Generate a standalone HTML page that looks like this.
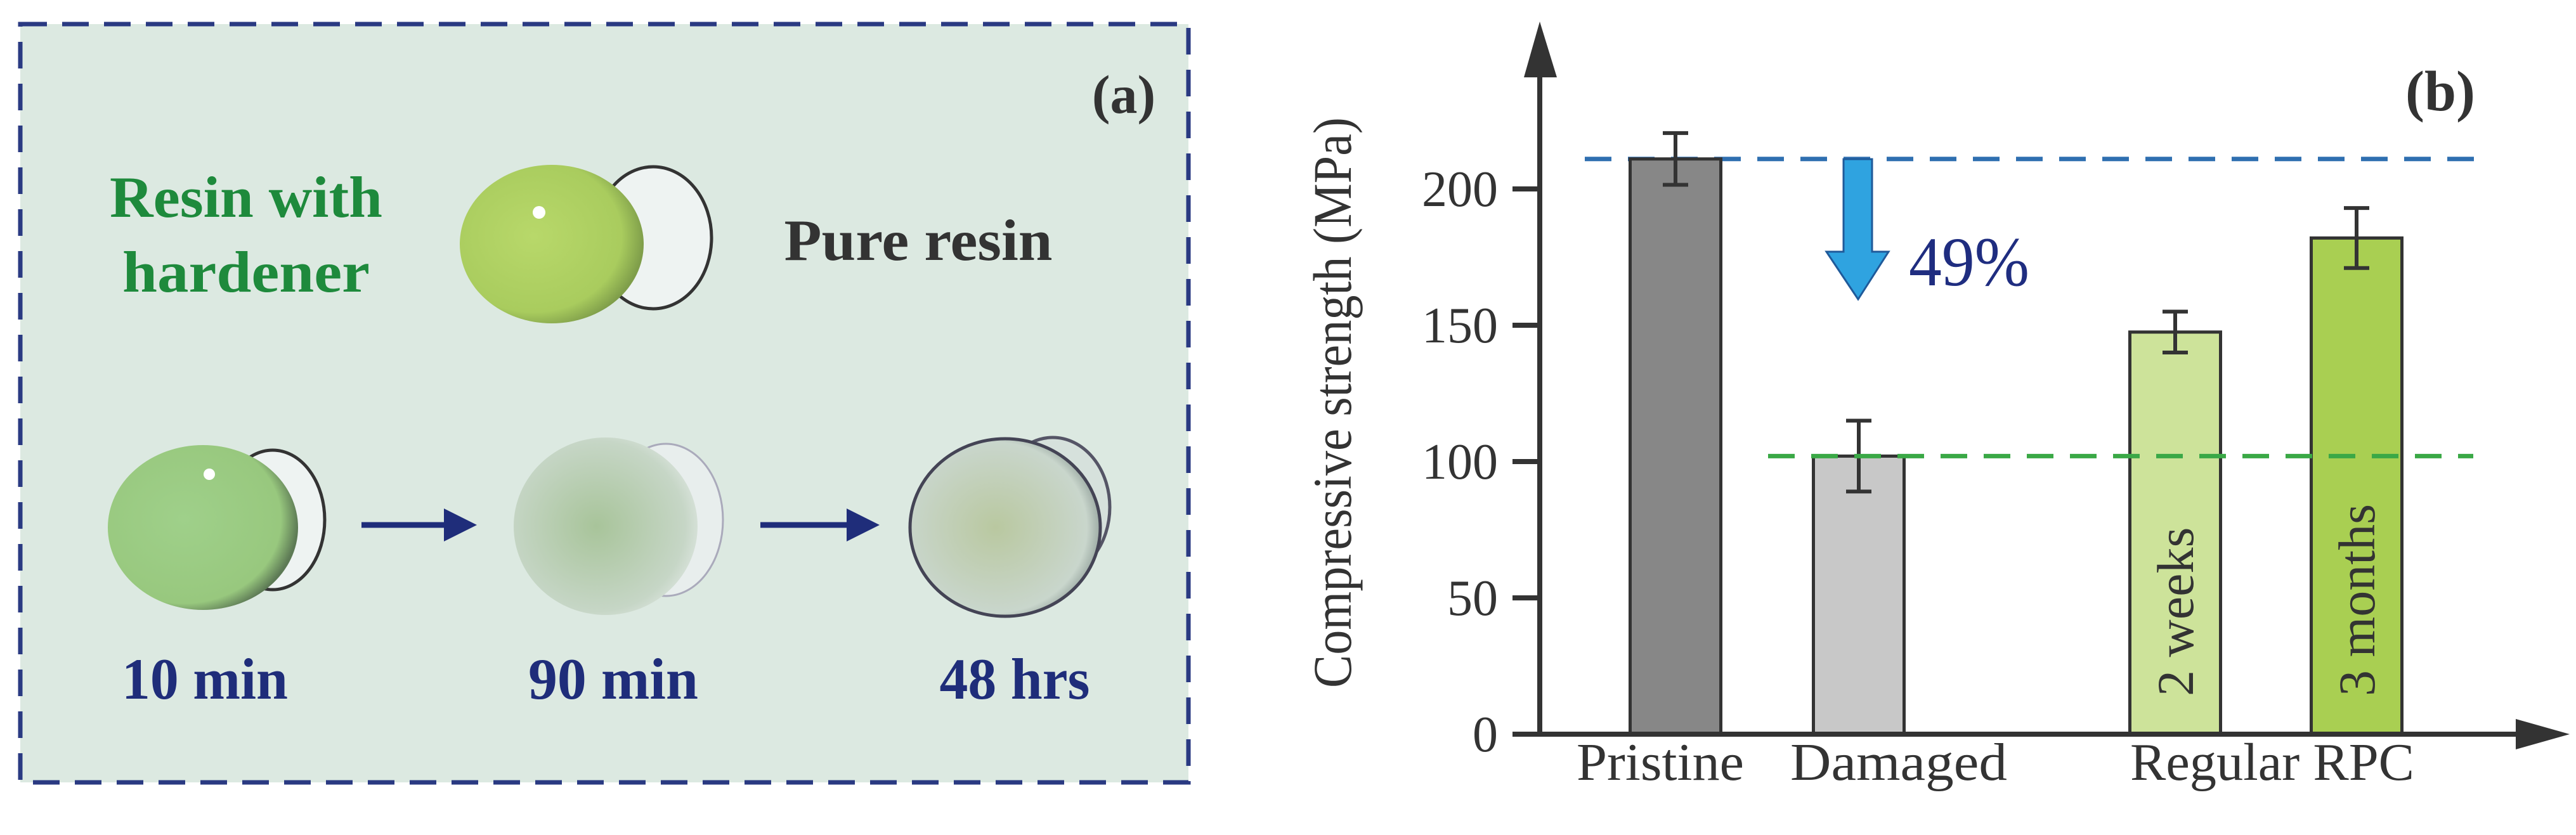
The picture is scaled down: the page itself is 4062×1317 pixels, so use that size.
<!DOCTYPE html>
<html><head><meta charset="utf-8"><style>
html,body{margin:0;padding:0;background:#fff;}
svg{display:block;}
text{font-family:"Liberation Serif",serif;}
</style></head><body>
<svg id="fig" width="4062" height="1317" viewBox="0 0 4062 1317" xmlns="http://www.w3.org/2000/svg">
<defs>
<radialGradient id="g1" cx="0.4" cy="0.45" r="0.6"><stop offset="0" stop-color="#b8d86a"/><stop offset="0.8" stop-color="#a9cc5e"/><stop offset="1" stop-color="#7f9e4a"/></radialGradient>
<radialGradient id="g2" cx="0.4" cy="0.45" r="0.6"><stop offset="0" stop-color="#9fd08a"/><stop offset="0.85" stop-color="#98c87e"/><stop offset="1" stop-color="#5d7a55"/></radialGradient>
<radialGradient id="g3" cx="0.45" cy="0.5" r="0.6"><stop offset="0" stop-color="#a8c49a"/><stop offset="0.8" stop-color="#c6d6c6"/><stop offset="1" stop-color="#dfe7e2"/></radialGradient>
<radialGradient id="g4" cx="0.45" cy="0.5" r="0.6"><stop offset="0" stop-color="#b9c8a0"/><stop offset="0.8" stop-color="#c9d6cc"/><stop offset="1" stop-color="#7d8c88"/></radialGradient>
</defs>
<g>
<rect x="32" y="38" width="1842" height="1196" fill="#dce9e1" stroke="#2a3a82" stroke-width="7" stroke-dasharray="42,24"/>
<text x="1772" y="178" font-size="86" font-weight="bold" fill="#333" text-anchor="middle">(a)</text>
<text x="388" y="342" font-size="92" font-weight="bold" fill="#1e8a3c" text-anchor="middle" textLength="430" lengthAdjust="spacingAndGlyphs">Resin with</text>
<text x="388" y="460" font-size="92" font-weight="bold" fill="#1e8a3c" text-anchor="middle" textLength="390" lengthAdjust="spacingAndGlyphs">hardener</text>
<text x="1448" y="410" font-size="92" font-weight="bold" fill="#333" text-anchor="middle" textLength="423" lengthAdjust="spacingAndGlyphs">Pure resin</text>
<g>
<ellipse cx="1030" cy="375" rx="92" ry="112" fill="#eef3f2" stroke="#333" stroke-width="5"/>
<ellipse cx="870" cy="385" rx="145" ry="125" fill="url(#g1)"/>
<circle cx="850" cy="335" r="10" fill="#fff"/>
</g>
<g>
<ellipse cx="430" cy="820" rx="82" ry="110" fill="#eef3f2" stroke="#333" stroke-width="5"/>
<ellipse cx="320" cy="832" rx="150" ry="130" fill="url(#g2)"/>
<circle cx="330" cy="748" r="9" fill="#fff"/>
</g>
<g>
<ellipse cx="1050" cy="820" rx="90" ry="120" fill="#e8eeed" stroke="#aab" stroke-width="3"/>
<ellipse cx="955" cy="830" rx="145" ry="140" fill="url(#g3)"/>
</g>
<g>
<ellipse cx="1660" cy="800" rx="90" ry="110" fill="#d6e1dc" stroke="#556" stroke-width="5"/>
<ellipse cx="1585" cy="832" rx="150" ry="140" fill="url(#g4)" stroke="#445" stroke-width="5"/>
</g>
<g fill="#1f2d7a" stroke="#1f2d7a">
<line x1="570" y1="828" x2="710" y2="828" stroke-width="9"/>
<polygon points="700,802 752,828 700,854" stroke="none"/>
<line x1="1199" y1="828" x2="1345" y2="828" stroke-width="9"/>
<polygon points="1335,802 1387,828 1335,854" stroke="none"/>
</g>
<g font-size="92" font-weight="bold" fill="#1f2d7a" text-anchor="middle">
<text x="323" y="1102" textLength="262" lengthAdjust="spacingAndGlyphs">10 min</text>
<text x="967" y="1102" textLength="268" lengthAdjust="spacingAndGlyphs">90 min</text>
<text x="1600" y="1102" textLength="237" lengthAdjust="spacingAndGlyphs">48 hrs</text>
</g>
</g>
<g id="chart"></g>
</svg>
<script>
const categories = ["Pristine", "Damaged", "2 weeks", "3 months"];
const values = [211, 102, 147.5, 182];
const errors = [9.5, 13, 7.5, 11];
const barColors = ["#878787", "#c8c8c8", "#cde39a", "#a9cf52"];
const barCenters = [2642, 2931, 3430, 3716];
const yTicks = [0, 50, 100, 150, 200];
const refLines = [211, 102];

const NS = "http://www.w3.org/2000/svg";
const g = document.getElementById('chart');
const y0 = 1158, pxPerUnit = 4.3;
function yScale(v){ return y0 - v * pxPerUnit; }
function mk(tag, attrs){ const e = document.createElementNS(NS, tag); for (const k in attrs) e.setAttribute(k, attrs[k]); g.appendChild(e); return e; }
const barW = 143;

const lineBlue = mk('line', {x1:2499, x2:3927, y1:yScale(refLines[0]), y2:yScale(refLines[0]), stroke:'#2f6fb0', 'stroke-width':7, 'stroke-dasharray':'42,26'});



for (let i = 0; i < categories.length; i++) {
  const top = yScale(values[i]);
  const r = mk('rect', {x:barCenters[i]-barW/2, y:top, width:barW, height:y0-top, fill:barColors[i], stroke:'#333', 'stroke-width':5});
  
  
  const eh = yScale(values[i]+errors[i]), el = yScale(values[i]-errors[i]);
  const eb = mk('path', {d:`M${barCenters[i]} ${eh}V${el}M${barCenters[i]-20} ${eh}H${barCenters[i]+20}M${barCenters[i]-20} ${el}H${barCenters[i]+20}`, stroke:'#333', 'stroke-width':6, fill:'none'});
  
  
}

const lineGreen = mk('line', {x1:2788, x2:3900, y1:yScale(refLines[1]), y2:yScale(refLines[1]), stroke:'#3aa846', 'stroke-width':7, 'stroke-dasharray':'42,26'});



[2, 3].forEach(i => {
  const t = mk('text', {x:0, y:0, 'font-size':82, fill:'#333', 'text-anchor':'start', transform:`translate(${barCenters[i]+28},1098) rotate(-90)`});
  t.textContent = categories[i];
  
  
});

const ax = mk('path', {d:'M2428 1158V110M2400 1158H3980', stroke:'#333', 'stroke-width':8, fill:'none'});


const ya = mk('polygon', {points:'2403,122 2428,34 2455,122', fill:'#333'});


const xa = mk('polygon', {points:'3967,1134 4052,1158 3967,1182', fill:'#333'});



yTicks.forEach(v => {
  const y = yScale(v);
  const tk = mk('line', {x1:2385, x2:2428, y1:y, y2:y, stroke:'#333', 'stroke-width':8});
  
  
  const t = mk('text', {x:2362, y:y+27, 'font-size':80, fill:'#333', 'text-anchor':'end'});
  t.textContent = String(v);
  
  
});

const yt = mk('text', {x:0, y:0, 'font-size':86, fill:'#333', 'text-anchor':'middle', textLength:900, lengthAdjust:'spacingAndGlyphs', transform:'translate(2130,635) rotate(-90)'});
yt.textContent = 'Compressive strength (MPa)';



const xl = [["Pristine",2618,264],["Damaged",2994,342],["Regular RPC",3583,448]];
xl.forEach(a => {
  const t = mk('text', {x:a[1], y:1230, 'font-size':84, fill:'#333', 'text-anchor':'middle', textLength:a[2], lengthAdjust:'spacingAndGlyphs'});
  t.textContent = a[0];
  
  
});

const arr = mk('polygon', {points:'2907,251 2952,251 2952,397 2978,397 2930,472 2880,397 2907,397', fill:'#2fa3e0', stroke:'#1f5a9a', 'stroke-width':3});


const pct = mk('text', {x:3010, y:450, 'font-size':110, fill:'#1f2d80', textLength:190, lengthAdjust:'spacingAndGlyphs'});
pct.textContent = '49%';


const pb = mk('text', {x:3848, y:174, 'font-size':90, 'font-weight':'bold', fill:'#333', 'text-anchor':'middle'});
pb.textContent = '(b)';


</script>
</body></html>
